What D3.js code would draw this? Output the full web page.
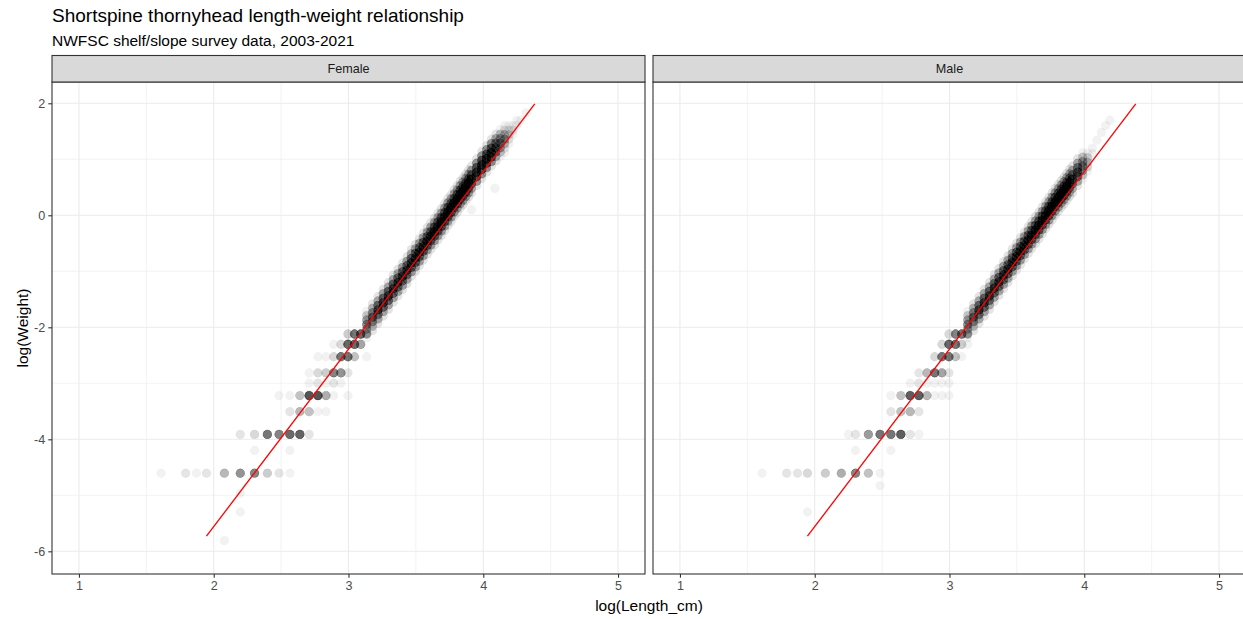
<!DOCTYPE html>
<html><head><meta charset="utf-8">
<script src="https://cdn.jsdelivr.net/npm/d3@7"></script>
<style>
body{margin:0;background:#fff}
svg{display:block}
text{font-family:"Liberation Sans",Arial,Helvetica,sans-serif}
</style>
</head><body>
<svg id="chart" width="1243" height="619"></svg>
<script>
// ---------------- data ----------------
const facets = ["Female", "Male"];
const xTicks = [1, 2, 3, 4, 5];
const xMinor = [1.5, 2.5, 3.5, 4.5];
const yTicks = [-6, -4, -2, 0, 2];
const yMinor = [-5, -3, -1, 1];
const xDomain = [0.8, 5.2];
const yDomain = [-6.405, 2.38];
// fitted length-weight relationship (log scale), same for both panels
const fitLogL = [1.946, 4.382];
const fitLogW = [-5.73, 1.99];

// discrete small-fish rows: [log(Length_cm), log(Weight), number of fish]
const femaleRows = [
  [2.079,-5.809,1],[2.197,-5.298,1],[2.197,-4.962,1],
  [1.609,-4.605,1],[1.792,-4.605,2],[1.872,-4.605,1],[1.946,-4.605,2],[2.079,-4.605,6],[2.197,-4.605,10],[2.303,-4.605,12],[2.398,-4.605,4],[2.485,-4.605,2],[2.565,-4.605,1],
  [2.303,-4.200,1],[2.565,-4.200,1],
  [2.197,-3.912,2],[2.303,-3.912,3],[2.398,-3.912,14],[2.485,-3.912,12],[2.565,-3.912,16],[2.639,-3.912,17],[2.708,-3.912,2],
  [2.565,-3.507,2],[2.639,-3.507,6],[2.708,-3.507,5],[2.773,-3.507,1],[2.833,-3.507,1],
  [2.485,-3.219,1],[2.565,-3.219,1],[2.639,-3.219,5],[2.708,-3.219,20],[2.773,-3.219,20],[2.833,-3.219,7],[2.890,-3.219,1],[2.996,-3.219,1],
  [2.708,-2.996,1],[2.773,-2.996,2],[2.833,-2.996,1],[2.890,-2.996,2],[2.944,-2.996,1],
  [2.708,-2.813,1],[2.773,-2.813,3],[2.833,-2.813,4],[2.890,-2.813,12],[2.944,-2.813,10],[2.996,-2.813,2],
  [2.773,-2.526,1],[2.833,-2.526,1],[2.890,-2.526,3],[2.944,-2.526,14],[2.996,-2.526,14],[3.045,-2.526,5],[3.135,-2.526,1],
  [2.890,-2.303,1],[2.944,-2.303,3],[2.996,-2.303,16],[3.045,-2.303,16],[3.091,-2.303,8],
  [2.996,-2.120,4],[3.045,-2.120,14],[3.091,-2.120,16],[3.135,-2.120,6],
  [3.913,0.10,1],[4.086,0.48,1]
];
const maleRows = [
  [1.946,-5.298,1],[2.485,-4.828,1],
  [1.609,-4.605,1],[1.792,-4.605,2],[1.872,-4.605,2],[1.946,-4.605,3],[2.079,-4.605,4],[2.197,-4.605,7],[2.303,-4.605,12],[2.398,-4.605,5],[2.485,-4.605,1],
  [2.303,-4.200,1],[2.565,-4.200,1],
  [2.251,-3.912,1],[2.303,-3.912,2],[2.398,-3.912,9],[2.485,-3.912,14],[2.565,-3.912,14],[2.639,-3.912,18],[2.708,-3.912,2],[2.773,-3.912,1],
  [2.565,-3.507,2],[2.639,-3.507,5],[2.708,-3.507,6],[2.773,-3.507,2],
  [2.565,-3.219,1],[2.639,-3.219,5],[2.708,-3.219,18],[2.773,-3.219,18],[2.833,-3.219,6],[2.890,-3.219,1],[2.944,-3.219,1],[2.996,-3.219,1],
  [2.708,-2.996,1],[2.773,-2.996,2],[2.833,-2.996,1],[2.890,-2.996,1],[2.944,-2.996,1],[2.996,-2.996,1],
  [2.773,-2.813,2],[2.833,-2.813,6],[2.890,-2.813,14],[2.944,-2.813,8],[2.996,-2.813,2],
  [2.890,-2.526,3],[2.944,-2.526,14],[2.996,-2.526,14],[3.045,-2.526,5],[3.091,-2.526,1],
  [2.944,-2.303,3],[2.996,-2.303,16],[3.045,-2.303,14],[3.091,-2.303,4],[3.135,-2.303,1],
  [2.996,-2.120,3],[3.045,-2.120,12],[3.091,-2.120,14],[3.135,-2.120,6]
];

// dense band of larger fish: [log(Length_cm), [log(Weight) values], [number of fish at each]]
const femaleBand = [
  [3.135,[-2.19,-2.11,-2.03,-1.95,-1.87,-1.79,-1.71],[1,4,7,10,7,4,1]],
  [3.178,[-2.06,-1.98,-1.90,-1.82,-1.74,-1.66,-1.58],[2,5,9,12,9,5,2]],
  [3.219,[-1.93,-1.85,-1.77,-1.69,-1.61,-1.53,-1.45],[2,6,11,15,11,6,2]],
  [3.258,[-1.80,-1.72,-1.64,-1.56,-1.48,-1.40,-1.32],[2,6,11,15,11,6,2]],
  [3.296,[-1.68,-1.60,-1.52,-1.44,-1.36,-1.28,-1.20],[2,6,11,15,11,6,2]],
  [3.332,[-1.55,-1.47,-1.39,-1.31,-1.23,-1.15,-1.07],[2,6,11,15,11,6,2]],
  [3.367,[-1.44,-1.36,-1.28,-1.20,-1.12,-1.04,-0.96],[2,6,11,15,11,6,2]],
  [3.401,[-1.33,-1.25,-1.17,-1.09,-1.01,-0.93,-0.85],[2,6,11,15,11,6,2]],
  [3.434,[-1.22,-1.14,-1.06,-0.98,-0.90,-0.82,-0.74],[2,6,11,15,11,6,2]],
  [3.466,[-1.09,-1.01,-0.93,-0.85,-0.77,-0.69,-0.61],[2,6,11,15,11,6,2]],
  [3.497,[-1.00,-0.92,-0.84,-0.76,-0.68,-0.60,-0.52],[2,6,11,15,11,6,2]],
  [3.526,[-0.90,-0.82,-0.74,-0.66,-0.58,-0.50,-0.42],[2,6,11,15,11,6,2]],
  [3.555,[-0.80,-0.72,-0.64,-0.56,-0.48,-0.40,-0.32],[2,6,11,15,11,6,2]],
  [3.584,[-0.70,-0.62,-0.54,-0.46,-0.38,-0.30,-0.22],[2,6,11,15,11,6,2]],
  [3.611,[-0.61,-0.53,-0.45,-0.37,-0.29,-0.21,-0.13],[2,6,11,15,11,6,2]],
  [3.638,[-0.53,-0.45,-0.37,-0.29,-0.21,-0.13,-0.05],[2,6,11,15,11,6,2]],
  [3.664,[-0.44,-0.36,-0.28,-0.20,-0.12,-0.04,0.04],[2,6,11,15,11,6,2]],
  [3.689,[-0.36,-0.28,-0.20,-0.12,-0.04,0.04,0.12],[2,6,11,15,11,6,2]],
  [3.714,[-0.27,-0.19,-0.11,-0.03,0.05,0.13,0.21],[2,6,11,15,11,6,2]],
  [3.738,[-0.18,-0.10,-0.02,0.06,0.14,0.22,0.30],[2,6,11,15,11,6,2]],
  [3.761,[-0.11,-0.03,0.05,0.13,0.21,0.29,0.37],[2,6,11,15,11,6,2]],
  [3.784,[-0.02,0.06,0.14,0.22,0.30,0.38,0.46],[2,6,11,15,11,6,2]],
  [3.807,[0.05,0.13,0.21,0.29,0.37,0.45,0.53],[2,6,11,15,11,6,2]],
  [3.829,[0.13,0.21,0.29,0.37,0.45,0.53,0.61],[2,6,11,15,11,6,2]],
  [3.850,[0.19,0.27,0.35,0.43,0.51,0.59,0.67],[2,6,11,15,11,6,2]],
  [3.871,[0.26,0.34,0.42,0.50,0.58,0.66,0.74],[2,6,11,15,11,6,2]],
  [3.892,[0.33,0.41,0.49,0.57,0.65,0.73,0.81],[2,6,11,15,11,6,2]],
  [3.912,[0.40,0.48,0.56,0.64,0.72,0.80,0.88],[2,6,11,15,11,6,2]],
  [3.951,[0.53,0.61,0.69,0.77,0.85,0.93,1.01],[2,8,13,18,13,8,2]],
  [3.989,[0.66,0.74,0.82,0.90,0.98,1.06,1.14],[2,8,13,18,13,8,2]],
  [4.025,[0.77,0.85,0.93,1.01,1.09,1.17,1.25],[2,8,13,18,13,8,2]],
  [4.060,[0.88,0.96,1.04,1.12,1.20,1.28,1.36],[2,8,13,18,13,8,2]],
  [4.094,[0.97,1.05,1.13,1.21,1.29,1.37,1.45],[2,6,10,13,10,6,2]],
  [4.127,[1.05,1.13,1.21,1.29,1.37,1.45,1.53],[1,4,7,9,7,4,1]],
  [4.159,[1.12,1.20,1.28,1.36,1.44,1.52,1.60],[1,2,5,7,5,2,1]],
  [4.190,[1.28,1.36,1.44,1.52,1.60],[1,2,3,2,1]],
  [4.220,[1.44,1.52,1.60],[1,2,1]],
  [4.248,[1.61,1.69],[1,1]],
  [4.277,[1.70],[1]],
  [4.317,[1.83],[1]]
];
const maleBand = [
  [3.135,[-2.19,-2.11,-2.03,-1.95,-1.87,-1.79,-1.71],[1,4,7,10,7,4,1]],
  [3.178,[-2.06,-1.98,-1.90,-1.82,-1.74,-1.66,-1.58],[2,5,9,12,9,5,2]],
  [3.219,[-1.93,-1.85,-1.77,-1.69,-1.61,-1.53,-1.45],[2,6,11,15,11,6,2]],
  [3.258,[-1.80,-1.72,-1.64,-1.56,-1.48,-1.40,-1.32],[2,6,11,15,11,6,2]],
  [3.296,[-1.68,-1.60,-1.52,-1.44,-1.36,-1.28,-1.20],[2,6,11,15,11,6,2]],
  [3.332,[-1.54,-1.46,-1.38,-1.30,-1.22,-1.14,-1.06],[2,6,11,15,11,6,2]],
  [3.367,[-1.43,-1.35,-1.27,-1.19,-1.11,-1.03,-0.95],[2,6,11,15,11,6,2]],
  [3.401,[-1.31,-1.23,-1.15,-1.07,-0.99,-0.91,-0.83],[2,6,11,15,11,6,2]],
  [3.434,[-1.20,-1.12,-1.04,-0.96,-0.88,-0.80,-0.72],[2,6,11,15,11,6,2]],
  [3.466,[-1.08,-1.00,-0.92,-0.84,-0.76,-0.68,-0.60],[2,6,11,15,11,6,2]],
  [3.497,[-0.98,-0.90,-0.82,-0.74,-0.66,-0.58,-0.50],[2,6,11,15,11,6,2]],
  [3.526,[-0.88,-0.80,-0.72,-0.64,-0.56,-0.48,-0.40],[2,6,11,15,11,6,2]],
  [3.555,[-0.78,-0.70,-0.62,-0.54,-0.46,-0.38,-0.30],[2,6,11,15,11,6,2]],
  [3.584,[-0.68,-0.60,-0.52,-0.44,-0.36,-0.28,-0.20],[2,6,11,15,11,6,2]],
  [3.611,[-0.59,-0.51,-0.43,-0.35,-0.27,-0.19,-0.11],[2,6,11,15,11,6,2]],
  [3.638,[-0.50,-0.42,-0.34,-0.26,-0.18,-0.10,-0.02],[2,6,11,15,11,6,2]],
  [3.664,[-0.42,-0.34,-0.26,-0.18,-0.10,-0.02,0.06],[2,6,11,15,11,6,2]],
  [3.689,[-0.33,-0.25,-0.17,-0.09,-0.01,0.07,0.15],[2,6,11,15,11,6,2]],
  [3.714,[-0.24,-0.16,-0.08,0.00,0.08,0.16,0.24],[2,6,11,15,11,6,2]],
  [3.738,[-0.16,-0.08,0.00,0.08,0.16,0.24,0.32],[2,6,11,15,11,6,2]],
  [3.761,[-0.08,0.00,0.08,0.16,0.24,0.32,0.40],[2,6,11,15,11,6,2]],
  [3.784,[0.00,0.08,0.16,0.24,0.32,0.40,0.48],[2,6,11,15,11,6,2]],
  [3.807,[0.07,0.15,0.23,0.31,0.39,0.47,0.55],[2,6,11,15,11,6,2]],
  [3.829,[0.14,0.22,0.30,0.38,0.46,0.54,0.62],[2,6,11,15,11,6,2]],
  [3.850,[0.20,0.28,0.36,0.44,0.52,0.60,0.68],[2,6,11,15,11,6,2]],
  [3.871,[0.27,0.35,0.43,0.51,0.59,0.67,0.75],[2,6,11,15,11,6,2]],
  [3.892,[0.34,0.42,0.50,0.58,0.66,0.74,0.82],[2,5,9,13,9,5,2]],
  [3.912,[0.40,0.48,0.56,0.64,0.72,0.80,0.88],[2,5,9,13,9,5,2]],
  [3.951,[0.53,0.61,0.69,0.77,0.85,0.93,1.01],[2,6,11,15,11,6,2]],
  [3.989,[0.64,0.72,0.80,0.88,0.96,1.04,1.12],[1,4,7,10,7,4,1]],
  [4.025,[0.79,0.87,0.95,1.03,1.11],[1,3,5,3,1]],
  [4.060,[1.10,1.20],[1,1]],
  [4.094,[1.34],[1]],
  [4.127,[1.48],[1]],
  [4.159,[1.60],[1]],
  [4.190,[1.70],[1]]
];

// ---------------- drawing ----------------
const FONT = '"Liberation Sans",Arial,Helvetica,sans-serif';
const svg = d3.select("#chart");
svg.append("rect").attr("width",1243).attr("height",619).attr("fill","#fff");

const panelTop = 82, panelBottom = 574, stripTop = 55.5;
const panelX = [[52,645],[653,1246]];
const dataByFacet = {Female:{rows:femaleRows,band:femaleBand}, Male:{rows:maleRows,band:maleBand}};

const y = d3.scaleLinear().domain(yDomain).range([panelBottom, panelTop]);

facets.forEach((name, i) => {
  const [x0, x1] = panelX[i];
  const x = d3.scaleLinear().domain(xDomain).range([x0, x1]);
  const g = svg.append("g");

  // grid
  const grid = g.append("g");
  grid.selectAll("line.vminor").data(xMinor).join("line")
    .attr("x1",d=>x(d)).attr("x2",d=>x(d)).attr("y1",panelTop).attr("y2",panelBottom)
    .attr("stroke","#EBEBEB").attr("stroke-width",0.6);
  grid.selectAll("line.hminor").data(yMinor).join("line")
    .attr("y1",d=>y(d)).attr("y2",d=>y(d)).attr("x1",x0).attr("x2",x1)
    .attr("stroke","#EBEBEB").attr("stroke-width",0.6);
  grid.selectAll("line.vmajor").data(xTicks).join("line")
    .attr("x1",d=>x(d)).attr("x2",d=>x(d)).attr("y1",panelTop).attr("y2",panelBottom)
    .attr("stroke","#EBEBEB").attr("stroke-width",1.1);
  grid.selectAll("line.hmajor").data(yTicks).join("line")
    .attr("y1",d=>y(d)).attr("y2",d=>y(d)).attr("x1",x0).attr("x2",x1)
    .attr("stroke","#EBEBEB").attr("stroke-width",1.1);

  // points (one circle per fish)
  const pts = [];
  dataByFacet[name].rows.forEach(r => { for (let k=0;k<r[2];k++) pts.push([r[0], r[1]]); });
  dataByFacet[name].band.forEach(b => b[1].forEach((w,j) => { for (let k=0;k<b[2][j];k++) pts.push([b[0], w]); }));
  g.append("g").selectAll("circle").data(pts).join("circle")
    .attr("cx",d=>x(d[0])).attr("cy",d=>y(d[1])).attr("r",4.4)
    .attr("fill","#000").attr("fill-opacity",0.05)
    .attr("stroke","#000").attr("stroke-opacity",0.04).attr("stroke-width",0.5);

  // fitted line
  const fit = fitLogL.map((v,k)=>[v, fitLogW[k]]);
  g.append("path").datum(fit)
    .attr("d", d3.line().x(d=>x(d[0])).y(d=>y(d[1])))
    .attr("fill","none").attr("stroke","#FF0000").attr("stroke-width",1.3);

  // panel border
  g.append("rect").attr("x",x0).attr("y",panelTop).attr("width",x1-x0).attr("height",panelBottom-panelTop)
    .attr("fill","none").attr("stroke","#333333").attr("stroke-width",1.1);

  // strip
  g.append("rect").attr("x",x0).attr("y",stripTop).attr("width",x1-x0).attr("height",panelTop-stripTop)
    .attr("fill","#D9D9D9").attr("stroke","#333333").attr("stroke-width",1.1);
  g.append("text").attr("x",(x0+x1)/2).attr("y",(stripTop+panelTop)/2).attr("dy","0.36em")
    .attr("text-anchor","middle").attr("font-size","12.6px").attr("fill","#1A1A1A").text(name);

  // x axis
  const xa = g.append("g").attr("transform",`translate(0,${panelBottom})`)
    .call(d3.axisBottom(x).tickValues(xTicks).tickSize(3.7).tickPadding(3).tickFormat(d3.format("d")));
  xa.attr("font-family", FONT);
  xa.select(".domain").remove();
  xa.selectAll(".tick line").attr("stroke","#333333").attr("stroke-width",1.1);
  xa.selectAll(".tick text").attr("fill","#4D4D4D").attr("font-size","12.6px");

  // y axis on first panel only
  if (i === 0) {
    const ya = g.append("g").attr("transform",`translate(${x0},0)`)
      .call(d3.axisLeft(y).tickValues(yTicks).tickSize(3.7).tickPadding(3).tickFormat(d=>String(d)));
    ya.attr("font-family", FONT);
    ya.select(".domain").remove();
    ya.selectAll(".tick line").attr("stroke","#333333").attr("stroke-width",1.1);
    ya.selectAll(".tick text").attr("fill","#4D4D4D").attr("font-size","12.6px");
  }
});

// titles
svg.append("text").attr("x",52).attr("y",21.5).attr("font-size","19px").attr("fill","#000")
  .text("Shortspine thornyhead length-weight relationship");
svg.append("text").attr("x",52).attr("y",46).attr("font-size","15.5px").attr("fill","#000")
  .text("NWFSC shelf/slope survey data, 2003-2021");
svg.append("text").attr("x",(52+1246)/2).attr("y",611).attr("text-anchor","middle")
  .attr("font-size","15.5px").attr("fill","#000").text("log(Length_cm)");
svg.append("text").attr("transform",`translate(28,${(panelTop+panelBottom)/2}) rotate(-90)`)
  .attr("text-anchor","middle").attr("font-size","15.5px").attr("fill","#000").text("log(Weight)");
</script>
</body></html>
